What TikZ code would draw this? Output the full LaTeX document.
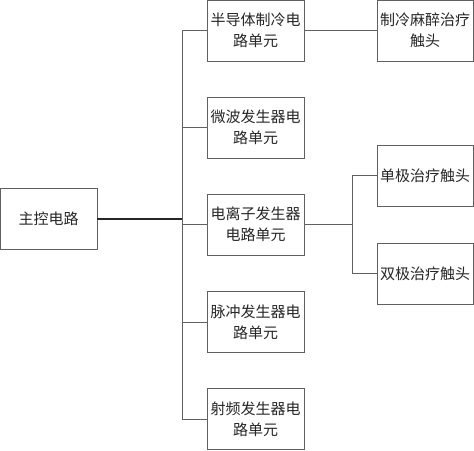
\documentclass[tikz,border=0pt]{standalone}
\usepackage{fontspec}
\newfontfamily\cjk{Noto Sans CJK SC}
\usetikzlibrary{positioning}

\begin{document}
\begin{tikzpicture}[x=1pt, y=-1pt,
		box/.style={draw=gray!75!black, line width=0.9pt, fill=white, inner sep=0pt,
			minimum width=97pt, minimum height=61pt, align=center,
			font=\cjk\fontsize{15}{21}\selectfont, text=black!85},
		link/.style={draw=gray!75!black, line width=0.9pt},
		mainlink/.style={draw=black!85, line width=2pt}]
	\useasboundingbox (0,0) rectangle (474,450);

	% 主控
	\node[box] (main) at (48.5,218.5) {主控电路};

	% 中间一列电路单元
	\node[box] (semi)  at (255.5,30.5)  {半导体制冷电\\路单元};
	\node[box] (micro) at (255.5,127.5) {微波发生器电\\路单元};
	\node[box] (ion)   at (255.5,224.5) {电离子发生器\\电路单元};
	\node[box] (pulse) at (255.5,322)   {脉冲发生器电\\路单元};
	\node[box] (rf)    at (255.5,419)   {射频发生器电\\路单元};

	% 右侧触头
	\node[box, minimum width=96pt] (cool) at (425,30.5)  {制冷麻醉治疗\\触头};
	\node[box, minimum width=96pt] (mono) at (425,175.5) {单极治疗触头};
	\node[box, minimum width=96pt] (bi)   at (425,273.5) {双极治疗触头};

	% 总线
	\coordinate (bus)  at (182,0);
	\coordinate (fork) at (352,0);
	\draw[link] (semi.west -| bus) -- (rf.west -| bus);
	\foreach \u in {semi, micro, ion, pulse, rf}
		\draw[link] (\u.west) -- (\u.west -| bus);
	\draw[mainlink] (main.east) -- (main.east -| bus);

	% 触头连线
	\draw[link] (semi) -- (cool);
	\draw[link] (ion.east) -- (ion.east -| fork);
	\draw[link] (mono.west -| fork) -- (bi.west -| fork);
	\draw[link] (mono.west) -- (mono.west -| fork);
	\draw[link] (bi.west) -- (bi.west -| fork);
\end{tikzpicture}
\end{document}
